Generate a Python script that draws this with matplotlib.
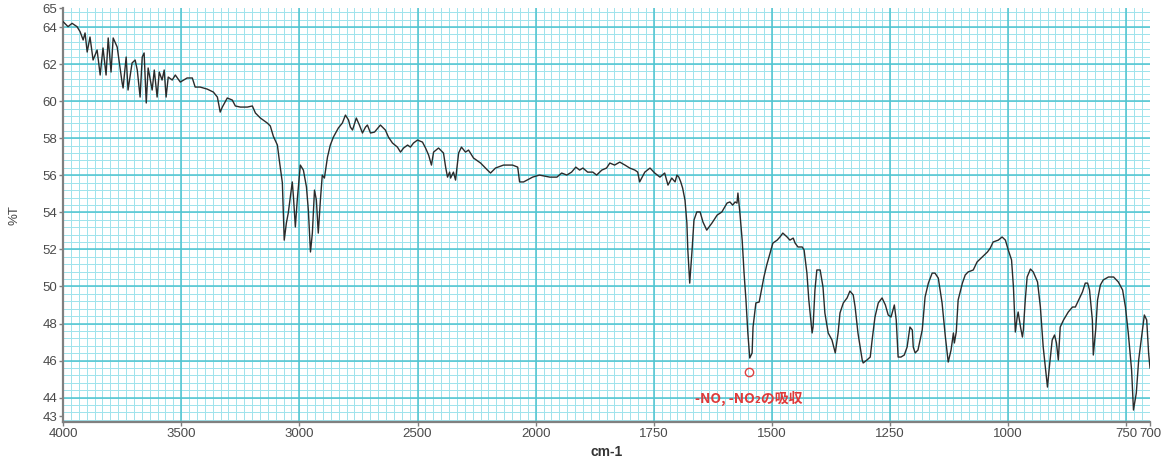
import numpy as np
import matplotlib
matplotlib.use('Agg')
from matplotlib import pyplot as plt
from matplotlib.ticker import FixedLocator

# IR spectrum, wavenumber (cm-1) vs transmittance (%T)
wavenumber = [
    4000, 3979, 3962, 3941, 3928, 3915, 3907, 3898, 3886, 3873, 3856, 3843, 3831, 3818, 3809,
    3797, 3788, 3771, 3750, 3746, 3733, 3725, 3708, 3695, 3686, 3674, 3665, 3657, 3648, 3640,
    3623, 3614, 3602, 3593, 3581, 3572, 3564, 3555, 3538, 3525, 3504, 3475, 3453, 3441, 3420,
    3390, 3364, 3347, 3335, 3326, 3305, 3284, 3271, 3250, 3220, 3199, 3186, 3165, 3136, 3123,
    3110, 3093, 3085, 3072, 3068, 3064, 3055, 3047, 3030, 3025, 3017, 3009, 2996, 2983, 2970,
    2962, 2953, 2945, 2936, 2928, 2920, 2911, 2903, 2894, 2881, 2869, 2856, 2835, 2818, 2805,
    2792, 2784, 2775, 2759, 2746, 2733, 2720, 2712, 2699, 2682, 2657, 2636, 2623, 2606, 2585,
    2572, 2559, 2542, 2530, 2517, 2500, 2479, 2466, 2453, 2441, 2432, 2411, 2390, 2381, 2373,
    2364, 2360, 2348, 2339, 2326, 2314, 2297, 2284, 2263, 2233, 2204, 2191, 2170, 2136, 2098,
    2076, 2068, 2051, 2013, 1992, 1970, 1955, 1945, 1934, 1924, 1915, 1907, 1900, 1890, 1879,
    1871, 1860, 1850, 1843, 1833, 1822, 1811, 1801, 1790, 1784, 1780, 1769, 1758, 1748, 1737,
    1727, 1720, 1712, 1705, 1701, 1697, 1693, 1689, 1684, 1680, 1678, 1674, 1669, 1665, 1659,
    1652, 1646, 1638, 1627, 1616, 1606, 1595, 1589, 1583, 1578, 1574, 1572, 1568, 1563, 1559,
    1555, 1551, 1547, 1542, 1540, 1534, 1527, 1521, 1517, 1511, 1504, 1498, 1489, 1483, 1477,
    1468, 1462, 1455, 1451, 1445, 1436, 1432, 1426, 1422, 1415, 1413, 1409, 1405, 1398, 1392,
    1388, 1381, 1373, 1366, 1360, 1356, 1349, 1341, 1335, 1328, 1324, 1318, 1309, 1307, 1299,
    1292, 1288, 1282, 1275, 1267, 1260, 1254, 1248, 1241, 1237, 1233, 1227, 1220, 1214, 1208,
    1203, 1201, 1197, 1191, 1182, 1176, 1169, 1161, 1155, 1148, 1140, 1133, 1127, 1121, 1116,
    1114, 1110, 1106, 1097, 1091, 1085, 1074, 1066, 1055, 1044, 1038, 1032, 1021, 1013, 1006,
    1000, 993, 989, 985, 981, 979, 974, 970, 968, 964, 960, 953, 947, 938, 932,
    926, 917, 913, 907, 902, 898, 894, 890, 883, 873, 864, 858, 851, 843, 837,
    832, 828, 822, 820, 815, 811, 805, 799, 788, 777, 767, 758, 752, 746, 739,
    735, 729, 724, 716, 712, 707, 703, 700,
]
transmittance = [
    64.29, 64.02, 64.20, 64.02, 63.75, 63.30, 63.68, 62.65, 63.46, 62.22, 62.76, 61.41, 62.87, 61.41, 63.41,
    61.57, 63.41, 62.92, 60.98, 60.71, 62.38, 60.60, 62.06, 62.22, 61.68, 60.22, 62.38, 62.60, 59.90, 61.79,
    60.60, 61.68, 60.22, 61.57, 61.14, 61.68, 60.22, 61.30, 61.14, 61.41, 61.03, 61.25, 61.25, 60.76, 60.76,
    60.65, 60.49, 60.22, 59.41, 59.68, 60.17, 60.06, 59.74, 59.68, 59.68, 59.74, 59.36, 59.09, 58.82, 58.66,
    58.10, 57.63, 56.82, 55.60, 54.12, 52.50, 53.42, 53.96, 55.64, 54.83, 53.21, 54.66, 56.55, 56.28, 55.37,
    54.12, 51.86, 52.88, 55.20, 54.66, 52.88, 54.66, 56.01, 55.85, 56.98, 57.63, 58.06, 58.55, 58.82, 59.25,
    58.98, 58.60, 58.44, 59.09, 58.71, 58.28, 58.60, 58.71, 58.28, 58.33, 58.71, 58.44, 58.06, 57.74, 57.52,
    57.25, 57.47, 57.63, 57.52, 57.74, 57.90, 57.79, 57.47, 57.09, 56.55, 57.25, 57.47, 57.20, 56.44, 55.90,
    56.17, 55.85, 56.17, 55.74, 57.20, 57.52, 57.25, 57.36, 56.93, 56.66, 56.28, 56.12, 56.39, 56.55, 56.55,
    56.44, 55.64, 55.64, 55.90, 56.01, 55.90, 55.90, 56.12, 56.01, 56.17, 56.44, 56.28, 56.39, 56.17, 56.17,
    56.01, 56.28, 56.39, 56.66, 56.55, 56.71, 56.55, 56.39, 56.28, 56.17, 55.64, 56.17, 56.39, 56.12, 55.90,
    56.12, 55.47, 55.85, 55.64, 56.01, 55.90, 55.64, 55.31, 54.66, 53.42, 51.97, 50.18, 51.97, 53.58, 54.02,
    54.02, 53.48, 53.04, 53.42, 53.85, 54.02, 54.50, 54.56, 54.39, 54.56, 54.50, 55.04, 54.02, 52.50, 50.72,
    49.27, 47.49, 46.14, 46.41, 47.81, 49.11, 49.16, 49.97, 50.51, 51.16, 51.80, 52.34, 52.50, 52.67, 52.88,
    52.67, 52.50, 52.61, 52.34, 52.13, 52.13, 51.97, 50.72, 49.27, 47.49, 47.81, 49.81, 50.89, 50.89, 49.97,
    48.57, 47.49, 47.11, 46.41, 47.49, 48.57, 49.11, 49.38, 49.75, 49.54, 48.89, 47.49, 46.03, 45.87, 46.03,
    46.19, 47.11, 48.35, 49.11, 49.38, 49.00, 48.46, 48.35, 49.00, 48.19, 46.19, 46.19, 46.30, 46.73, 47.81,
    47.65, 46.73, 46.41, 46.57, 47.65, 49.43, 50.18, 50.72, 50.72, 50.45, 49.11, 47.27, 45.92, 46.57, 47.49,
    46.95, 47.54, 49.27, 50.18, 50.62, 50.78, 50.89, 51.32, 51.59, 51.86, 52.07, 52.40, 52.50, 52.67, 52.50,
    51.97, 51.43, 49.97, 47.54, 48.35, 48.62, 47.81, 47.27, 47.65, 49.27, 50.51, 50.94, 50.78, 50.24, 48.89,
    46.73, 44.57, 45.65, 47.11, 47.38, 46.95, 46.03, 47.81, 48.19, 48.62, 48.89, 48.89, 49.27, 49.70, 50.18,
    50.18, 49.81, 48.19, 46.30, 47.65, 49.27, 50.08, 50.35, 50.51, 50.51, 50.24, 49.81, 48.89, 47.49, 45.49,
    43.33, 44.25, 46.03, 47.65, 48.46, 48.19, 46.41, 45.60,
]

x_ticks = [4000, 3500, 3000, 2500, 2000, 1750, 1500, 1250, 1000, 750, 700]
y_ticks = [43, 44, 46, 48, 50, 52, 54, 56, 58, 60, 62, 64, 65]
mark_x, mark_y = 1549, 45.38
note = '-NO, -NO\u2082の吸収'


# chart paper: above 2000 cm-1 the scale is compressed by half
def fwd(x):
    x = np.asarray(x, dtype=float)
    return np.where(x > 2000, 2000 + (x - 2000) / 2, x)


def inv(u):
    u = np.asarray(u, dtype=float)
    return np.where(u > 2000, 2000 + (u - 2000) * 2, u)


plt.rcParams['font.family'] = ['Liberation Sans', 'DejaVu Sans']

fig = plt.figure(figsize=(11.68, 4.59), dpi=100)
ax = fig.add_axes([0.054, 0.080, 0.9306, 0.9015])
ax.set_xscale('function', functions=(fwd, inv))
ax.set_xlim(4000, 700)
ax.set_ylim(42.67, 65)

minor_c = '#9fe3ec'
major_c = '#4fc4d0'
# minor grid
for u in np.arange(700, 3000.01, 250 / 15):
    ax.axvline(float(inv(u)), color=minor_c, lw=0.7, zorder=0)
for v in np.arange(42.8, 65, 0.4):
    ax.axhline(v, color=minor_c, lw=0.7, zorder=0)
# major grid
for u in np.arange(750, 3000.01, 250):
    ax.axvline(float(inv(u)), color=major_c, lw=1.1, zorder=0)
for v in range(44, 65, 2):
    ax.axhline(v, color=major_c, lw=1.1, zorder=0)

ax.plot(wavenumber, transmittance, color='#2b2b2b', lw=1.0, zorder=3)

ax.plot(mark_x, mark_y, 'o', ms=6, mfc='none', mec='#e04040', mew=1.0, zorder=4)
ax.text(mark_x, 43.95, note, color='#e03a3a', fontsize=10, fontweight='bold',
        ha='center', va='center', family=['Noto Sans CJK JP', 'DejaVu Sans'], zorder=4)

ax.xaxis.set_major_locator(FixedLocator(x_ticks))
ax.set_xticklabels([str(t) for t in x_ticks])
ax.xaxis.set_minor_locator(FixedLocator([]))
ax.set_yticks(y_ticks)
ax.set_yticklabels([str(t) for t in y_ticks])

for side in ['top', 'right']:
    ax.spines[side].set_visible(False)
for side in ['left', 'bottom']:
    ax.spines[side].set_color('#808080')
    ax.spines[side].set_linewidth(1.6)

ax.tick_params(axis='both', length=3, width=1, color='#808080', labelcolor='#4a4a4a',
               labelsize=9.5, pad=1)

ax.set_xlabel('cm-1', fontsize=10, fontweight='bold', color='#333333', labelpad=4)
ax.set_ylabel('%T', fontsize=9.5, color='#444444', labelpad=16)

plt.savefig('out.png', dpi=100)
